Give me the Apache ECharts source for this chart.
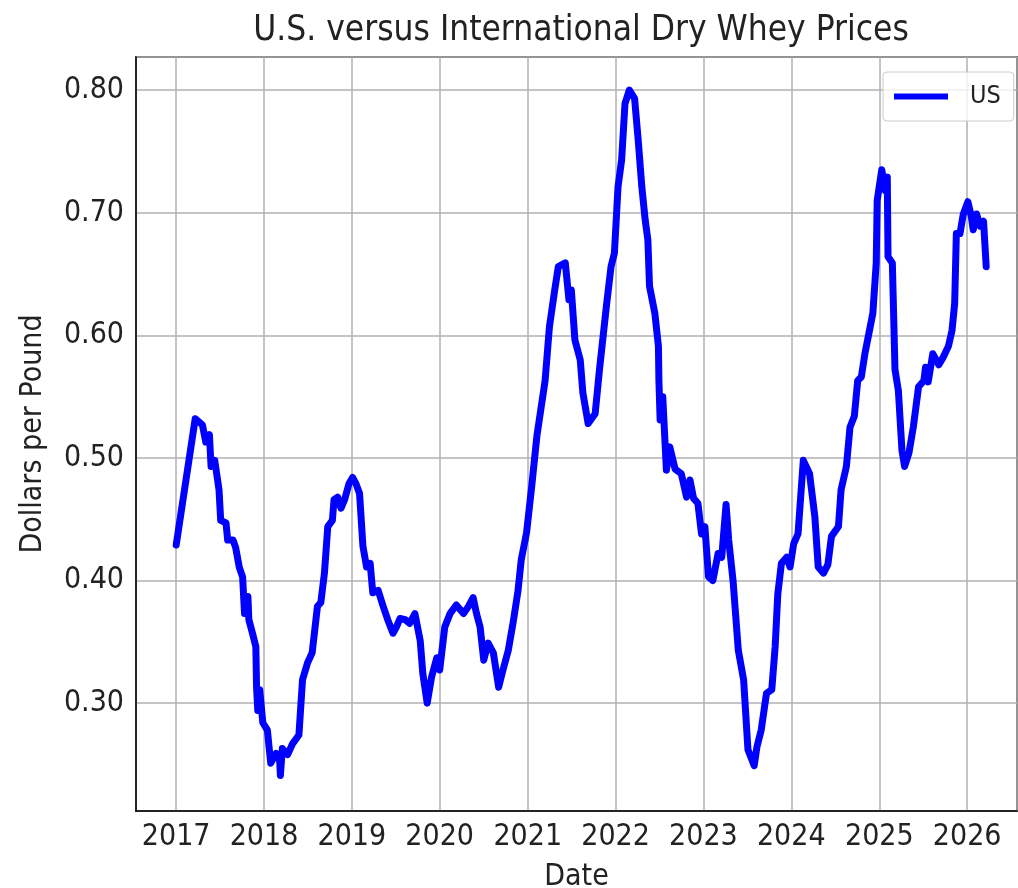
<!DOCTYPE html>
<html lang="en">
<head>
    <meta charset="UTF-8">
    <title>Dry Whey Prices</title>
    <script src="https://cdn.jsdelivr.net/npm/echarts@6/dist/echarts.min.js"></script>
    <style>
        html, body { margin: 0; padding: 0; background: #fff; }
        #main { width: 1018px; height: 888px; }
    </style>
</head>
<body>
<div id="main"></div>
<script type="text/javascript">
    // weekly-ish US dry whey price
    var dates = [
        '2017-01-01','2017-03-21','2017-04-20','2017-05-04','2017-05-19','2017-05-26','2017-06-10','2017-06-28',
        '2017-07-05','2017-07-27','2017-08-03','2017-08-25','2017-09-05','2017-09-20','2017-10-04','2017-10-12',
        '2017-10-26','2017-10-30','2017-11-14','2017-11-28','2017-12-01','2017-12-06','2017-12-14','2017-12-27',
        '2018-01-15','2018-01-22','2018-01-29','2018-02-20','2018-03-07','2018-03-10','2018-03-18','2018-04-09',
        '2018-04-30','2018-05-26','2018-06-10','2018-07-01','2018-07-20','2018-08-11','2018-08-25','2018-09-09',
        '2018-09-23','2018-10-12','2018-10-19','2018-11-03','2018-11-17','2018-12-02','2018-12-20','2019-01-04',
        '2019-01-18','2019-02-02','2019-02-16','2019-03-03','2019-03-18','2019-03-29','2019-04-20','2019-05-11',
        '2019-05-30','2019-06-21','2019-07-05','2019-07-20','2019-08-11','2019-08-29','2019-09-20','2019-10-12',
        '2019-10-23','2019-11-10','2019-11-28','2019-12-20','2020-01-01','2020-01-22','2020-02-13','2020-03-10',
        '2020-04-09','2020-04-30','2020-05-19','2020-06-02','2020-06-17','2020-07-02','2020-07-20','2020-08-11',
        '2020-09-02','2020-09-20','2020-10-12','2020-11-03','2020-11-21','2020-12-05','2020-12-27','2021-01-18',
        '2021-02-08','2021-03-14','2021-04-01','2021-04-23','2021-05-08','2021-06-06','2021-06-21','2021-07-01',
        '2021-07-16','2021-08-07','2021-08-18','2021-09-09','2021-10-08','2021-10-26','2021-11-25','2021-12-13',
        '2021-12-27','2022-01-11','2022-01-26','2022-02-09','2022-02-27','2022-03-21','2022-04-05','2022-04-20',
        '2022-05-04','2022-05-15','2022-05-22','2022-06-13','2022-06-28','2022-06-30','2022-07-05','2022-07-16',
        '2022-07-31','2022-08-14','2022-09-05','2022-10-01','2022-10-23','2022-11-06','2022-11-21','2022-12-09',
        '2022-12-24','2023-01-07','2023-01-22','2023-02-09','2023-03-03','2023-03-18','2023-04-05','2023-04-16',
        '2023-05-04','2023-05-26','2023-06-17','2023-07-05','2023-07-31','2023-08-11','2023-08-29','2023-09-20',
        '2023-10-12','2023-10-26','2023-11-06','2023-11-21','2023-12-13','2023-12-27','2024-01-11','2024-01-29',
        '2024-02-20','2024-03-17','2024-04-08','2024-04-22','2024-05-14','2024-06-01','2024-06-16','2024-07-15',
        '2024-07-26','2024-08-17','2024-09-01','2024-09-19','2024-10-03','2024-10-18','2024-11-02','2024-11-16',
        '2024-12-05','2024-12-19','2024-12-23','2025-01-11','2025-01-26','2025-02-03','2025-02-06','2025-02-24',
        '2025-03-07','2025-03-21','2025-04-05','2025-04-16','2025-05-04','2025-05-22','2025-06-13','2025-07-05',
        '2025-07-12','2025-07-23','2025-08-11','2025-09-05','2025-09-23','2025-10-15','2025-10-30','2025-11-10',
        '2025-11-17','2025-12-02','2025-12-16','2026-01-04','2026-01-18','2026-01-26','2026-02-09','2026-02-24',
        '2026-03-10','2026-03-21'
    ];
    var usPrices = [
        0.429,0.532,0.527,0.513,0.519,0.493,0.498,0.474,
        0.449,0.447,0.433,0.433,0.427,0.411,0.403,0.373,
        0.387,0.368,0.357,0.346,0.313,0.294,0.311,0.284,
        0.278,0.264,0.251,0.259,0.253,0.241,0.263,0.258,
        0.267,0.274,0.319,0.333,0.341,0.379,0.382,0.406,
        0.444,0.449,0.466,0.468,0.459,0.466,0.479,0.484,
        0.479,0.471,0.428,0.411,0.414,0.390,0.392,0.379,
        0.368,0.357,0.362,0.369,0.368,0.365,0.373,0.351,
        0.324,0.300,0.321,0.337,0.327,0.362,0.373,0.380,
        0.373,0.379,0.386,0.373,0.362,0.335,0.349,0.341,
        0.313,0.327,0.343,0.368,0.391,0.417,0.439,0.478,
        0.518,0.563,0.607,0.637,0.656,0.659,0.629,0.637,
        0.596,0.580,0.553,0.528,0.536,0.572,0.626,0.656,
        0.667,0.721,0.743,0.789,0.800,0.793,0.759,0.721,
        0.694,0.678,0.640,0.618,0.591,0.563,0.531,0.550,
        0.490,0.509,0.491,0.487,0.468,0.482,0.467,0.463,
        0.438,0.444,0.403,0.400,0.422,0.419,0.462,0.433,
        0.400,0.343,0.319,0.262,0.249,0.264,0.278,0.308,
        0.311,0.346,0.389,0.414,0.419,0.411,0.430,0.438,
        0.498,0.487,0.452,0.411,0.406,0.413,0.436,0.444,
        0.474,0.493,0.525,0.534,0.563,0.566,0.585,0.599,
        0.618,0.659,0.710,0.735,0.718,0.729,0.664,0.659,
        0.572,0.555,0.506,0.493,0.504,0.525,0.558,0.563,
        0.574,0.562,0.585,0.576,0.582,0.591,0.604,0.626,
        0.683,0.683,0.699,0.709,0.697,0.686,0.699,0.689,
        0.693,0.656
    ];
    var xMin = '2016-07-18';
    var xMax = '2026-07-27';
    var yMin = 0.212;
    var yMax = 0.827;

    var seriesData = dates.map(function (d, i) { return [d, usPrices[i]]; });

    var font = 'DejaVu Sans Condensed';
    var chart = echarts.init(document.getElementById('main'), null, {renderer: 'canvas'});
    var option = {
        backgroundColor: '#fff',
        animation: false,
        title: {
            text: 'U.S. versus International Dry Whey Prices',
            left: 576,
            textAlign: 'center',
            top: 8,
            textStyle: {fontFamily: font, fontSize: 35, fontWeight: 'normal', color: '#222'}
        },
        legend: {
            data: ['US'],
            left: 883,
            top: 72,
            padding: [12, 13, 12, 11],
            itemWidth: 54,
            itemHeight: 6,
            icon: 'rect',
            backgroundColor: 'rgba(255,255,255,0.8)',
            borderColor: '#cccccc',
            borderWidth: 1,
            borderRadius: 4,
            textStyle: {fontFamily: font, fontSize: 25, color: '#222', padding: [0, 0, 0, 17]}
        },
        grid: {
            left: 136,
            top: 57,
            right: 1,
            bottom: 77,
            show: true,
            borderColor: '#000',
            borderWidth: 1.5,
            containLabel: false,
            outerBoundsMode: 'none'
        },
        xAxis: {
            type: 'time',
            min: xMin,
            max: xMax,
            splitNumber: 10,
            minInterval: 365 * 24 * 3600 * 1000,
            name: 'Date',
            nameLocation: 'middle',
            nameGap: 51,
            nameTextStyle: {fontFamily: font, fontSize: 30, color: '#222'},
            axisLine: {lineStyle: {color: '#000', width: 1.5}},
            axisTick: {show: false},
            axisLabel: {
                fontFamily: font, fontSize: 30, color: '#222', margin: 11,
                formatter: '{yyyy}',
                showMinLabel: false, showMaxLabel: false
            },
            splitLine: {show: true, lineStyle: {color: '#b0b0b0', width: 1.5}}
        },
        yAxis: {
            type: 'value',
            min: yMin,
            max: yMax,
            name: 'Dollars per Pound',
            nameLocation: 'middle',
            nameGap: 88,
            nameTextStyle: {fontFamily: font, fontSize: 30, color: '#222'},
            axisLine: {show: true, lineStyle: {color: '#000', width: 1.5}},
            axisTick: {show: false},
            axisLabel: {
                fontFamily: font, fontSize: 30, color: '#222', margin: 12,
                showMinLabel: false, showMaxLabel: false,
                formatter: function (v) { return v.toFixed(2); }
            },
            splitLine: {show: true, lineStyle: {color: '#b0b0b0', width: 1.5}}
        },
        series: [
            {
                name: 'US',
                type: 'line',
                data: seriesData,
                showSymbol: false,
                symbol: 'none',
                color: '#0000ff',
                lineStyle: {color: '#0000ff', width: 7, join: 'round', cap: 'round'}
            }
        ]
    };
    chart.setOption(option);
</script>
</body>
</html>
